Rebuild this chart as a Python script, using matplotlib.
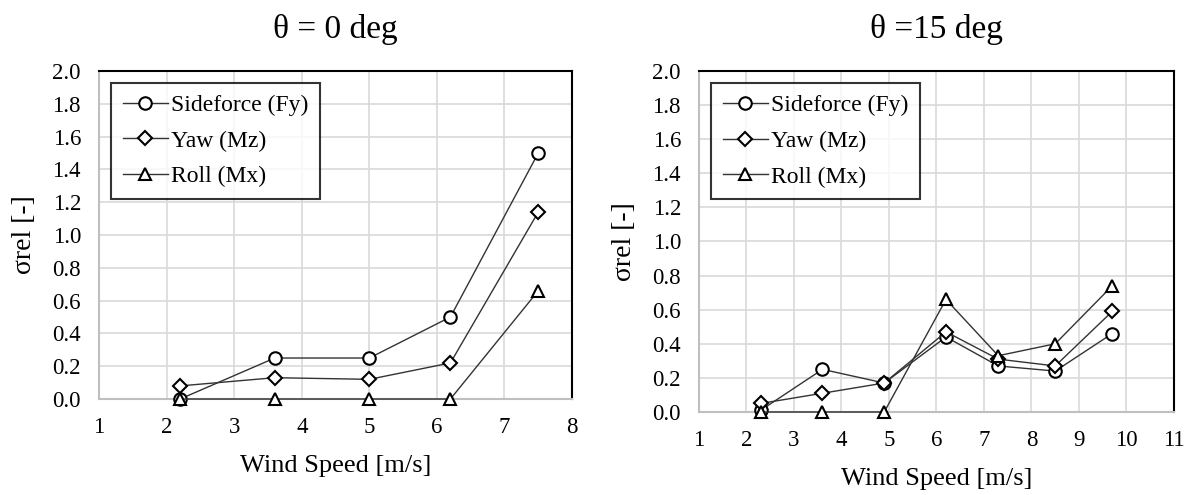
import matplotlib
matplotlib.use('Agg')
import matplotlib.pyplot as plt
from matplotlib.ticker import FormatStrFormatter

plt.rcParams['font.family'] = ['Liberation Serif', 'DejaVu Serif']

# theta = 0 deg
speed_0 = [2.2, 3.6, 5.0, 6.2, 7.5]
sideforce_0 = [0.0, 0.25, 0.25, 0.50, 1.50]
yaw_0 = [0.08, 0.13, 0.12, 0.22, 1.14]
roll_0 = [0.0, 0.0, 0.0, 0.0, 0.66]

# theta = 15 deg
speed_15 = [2.3, 3.6, 4.9, 6.2, 7.3, 8.5, 9.7]
sideforce_15 = [0.01, 0.25, 0.17, 0.44, 0.27, 0.24, 0.46]
yaw_15 = [0.05, 0.11, 0.17, 0.47, 0.31, 0.27, 0.59]
roll_15 = [0.0, 0.0, 0.0, 0.66, 0.33, 0.40, 0.74]

labels = ['Sideforce (Fy)', 'Yaw (Mz)', 'Roll (Mx)']
markers = ['o', 'D', '^']
msizes = [9, 7, 9]

fig = plt.figure(figsize=(11.92, 4.95), dpi=100)
ax1 = fig.add_axes([0.0831, 0.1939, 0.3968, 0.6626])
ax2 = fig.add_axes([0.5864, 0.1677, 0.3985, 0.6889])


def draw(ax, x, series, xmax, title):
    for y, lab, m, ms in zip(series, labels, markers, msizes):
        ax.plot(x, y, color='#333333', lw=1.0, marker=m, ms=ms,
                mfc='white', mec='black', mew=1.5, label=lab, zorder=3,
                clip_on=False)
    ax.set_xlim(1, xmax)
    ax.set_ylim(0, 2.0)
    ax.set_xticks(range(1, xmax + 1))
    ax.set_yticks([i * 0.2 for i in range(11)])
    ax.yaxis.set_major_formatter(FormatStrFormatter('%.1f'))
    ax.grid(True, color='#d9d9d9', lw=1.2)
    ax.set_axisbelow(True)
    ax.tick_params(length=0, labelsize=16.5, pad=13)
    for s in ['top', 'right']:
        ax.spines[s].set_color('black')
        ax.spines[s].set_linewidth(1.5)
    for s in ['left', 'bottom']:
        ax.spines[s].set_color('#bfbfbf')
        ax.spines[s].set_linewidth(1.5)
    ax.set_xlabel('Wind Speed [m/s]', fontsize=19, labelpad=12)
    ax.set_ylabel('σrel [-]', fontsize=20, labelpad=11)
    ax.set_title(title, fontsize=24, pad=24)
    leg = ax.legend(loc='upper left', bbox_to_anchor=(0.025, 0.965),
                    fontsize=17, frameon=True, fancybox=False,
                    edgecolor='black', handlelength=1.9, handletextpad=0.15,
                    borderpad=0.5, labelspacing=0.6, borderaxespad=0.0)
    leg.get_frame().set_linewidth(1.5)


draw(ax1, speed_0, [sideforce_0, yaw_0, roll_0], 8, 'θ = 0 deg')
draw(ax2, speed_15, [sideforce_15, yaw_15, roll_15], 11, 'θ =15 deg')

plt.savefig('out.png', dpi=100)
